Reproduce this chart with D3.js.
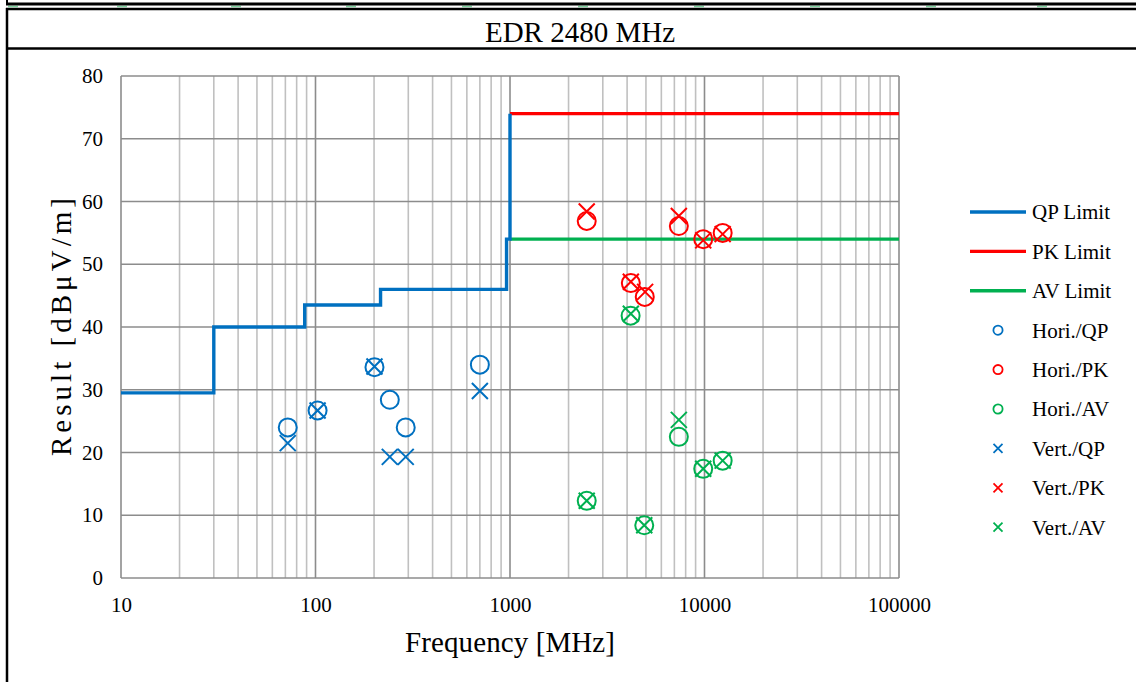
<!DOCTYPE html>
<html>
<head>
<meta charset="utf-8">
<title>EDR 2480 MHz</title>
<script src="https://d3js.org/d3.v7.min.js"></script>
<style>
  body { margin: 0; background: #fff; }
  svg text { font-family: "Liberation Serif", "Times New Roman", serif; fill: #000; }
</style>
</head>
<body>
<svg id="chart" width="1136" height="682"></svg>
<script>
// ---- data ----
var qpLimitFreq = [10, 30, 30, 88, 88, 216, 216, 960, 960, 1000, 1000];
var qpLimitVal  = [29.5, 29.5, 40, 40, 43.5, 43.5, 46, 46, 54, 54, 74];
var pkLimitFreq = [1000, 100000];
var pkLimitVal  = [74, 74];
var avLimitFreq = [1000, 100000];
var avLimitVal  = [54, 54];

var horiQPFreq = [72, 102.5, 201, 241, 291, 700];
var horiQPVal  = [24.0, 26.7, 33.6, 28.4, 24.0, 34.0];
var vertQPFreq = [72, 102.5, 201, 241, 291, 700];
var vertQPVal  = [21.5, 26.7, 33.7, 19.3, 19.3, 29.8];

var horiPKFreq = [2480, 4180, 4930, 7380, 9850, 12400];
var horiPKVal  = [56.9, 47.0, 44.8, 56.1, 54.0, 55.0];
var vertPKFreq = [2480, 4180, 4950, 7380, 9850, 12400];
var vertPKVal  = [58.4, 47.2, 45.6, 57.7, 53.8, 54.8];

var horiAVFreq = [2480, 4170, 4900, 7380, 9850, 12400];
var horiAVVal  = [12.3, 41.8, 8.4, 22.5, 17.4, 18.7];
var vertAVFreq = [2480, 4180, 4900, 7380, 9850, 12400];
var vertAVVal  = [12.3, 42.1, 8.4, 25.2, 17.4, 18.7];

var xTicks = [10, 100, 1000, 10000, 100000];
var yTicks = [0, 10, 20, 30, 40, 50, 60, 70, 80];

var blue = "#0070C0", red = "#FF0000", green = "#00B050";
var serif = "Liberation Serif, Times New Roman, serif";

var svg = d3.select("#chart");

// ---- page frame (table borders) ----
var dashX = [13, 122, 236, 351, 467, 583, 699, 815, 931, 1042];
svg.selectAll(".dash").data(dashX).enter().append("line")
  .attr("x1", function(d) { return d - 5; }).attr("x2", function(d) { return d + 5; })
  .attr("y1", 6.5).attr("y2", 6.5)
  .attr("stroke", "#7fd39f").attr("stroke-width", 1.5);
svg.append("line").attr("x1", 6).attr("x2", 1136).attr("y1", 4).attr("y2", 4)
  .attr("stroke", "#000").attr("stroke-width", 3);
svg.append("line").attr("x1", 7).attr("x2", 7).attr("y1", 0).attr("y2", 4)
  .attr("stroke", "#000").attr("stroke-width", 2);
svg.append("line").attr("x1", 6).attr("x2", 1136).attr("y1", 9).attr("y2", 9)
  .attr("stroke", "#000").attr("stroke-width", 2.5);
svg.append("line").attr("x1", 7).attr("x2", 7).attr("y1", 8).attr("y2", 682)
  .attr("stroke", "#000").attr("stroke-width", 2.5);
svg.append("line").attr("x1", 6).attr("x2", 1136).attr("y1", 48.5).attr("y2", 48.5)
  .attr("stroke", "#000").attr("stroke-width", 2.5);

svg.append("text")
  .attr("x", 580).attr("y", 42)
  .attr("text-anchor", "middle")
  .attr("font-size", "29px")
  .text("EDR 2480 MHz");

// ---- scales ----
var x = d3.scaleLog().domain([10, 100000]).range([121, 899]);
var y = d3.scaleLinear().domain([0, 80]).range([578, 76]);

// ---- grid ----
var minor = [];
for (var dec = 10; dec < 100000; dec *= 10) {
  for (var k = 2; k <= 9; k++) minor.push(dec * k);
}
svg.append("g").selectAll("line").data(minor).enter().append("line")
  .attr("x1", function(d) { return x(d); }).attr("x2", function(d) { return x(d); })
  .attr("y1", y(80)).attr("y2", y(0))
  .attr("stroke", "#c0c0c0").attr("stroke-width", 1.6);
svg.append("g").selectAll("line").data(xTicks).enter().append("line")
  .attr("x1", function(d) { return x(d); }).attr("x2", function(d) { return x(d); })
  .attr("y1", y(80)).attr("y2", y(0))
  .attr("stroke", "#8c8c8c").attr("stroke-width", 1.6);
svg.append("g").selectAll("line").data(yTicks).enter().append("line")
  .attr("x1", x(10)).attr("x2", x(100000))
  .attr("y1", function(d) { return y(d); }).attr("y2", function(d) { return y(d); })
  .attr("stroke", "#8c8c8c").attr("stroke-width", 1.6);

// ---- axes (labels only) ----
var gy = svg.append("g")
  .attr("transform", "translate(" + (x(10) - 6) + ",0)")
  .call(d3.axisLeft(y).tickValues(yTicks).tickSize(0).tickPadding(12))
  .attr("font-family", serif).attr("font-size", 21);
gy.select(".domain").remove();
gy.selectAll("text").attr("dy", "0.32em");

var gx = svg.append("g")
  .attr("transform", "translate(0," + (y(0) + 6) + ")")
  .call(d3.axisBottom(x).tickValues(xTicks).tickFormat(d3.format("d")).tickSize(0).tickPadding(13))
  .attr("font-family", serif).attr("font-size", 21);
gx.select(".domain").remove();

svg.append("text")
  .attr("x", 510).attr("y", 652)
  .attr("text-anchor", "middle")
  .attr("font-size", "29px")
  .attr("textLength", 210)
  .text("Frequency [MHz]");

svg.append("text")
  .attr("transform", "translate(71,327) rotate(-90)")
  .attr("text-anchor", "middle")
  .attr("font-size", "29px")
  .attr("textLength", 258)
  .text("Result [dBμV/m]");

// ---- limit lines ----
var line = d3.line()
  .x(function(d) { return x(d[0]); })
  .y(function(d) { return y(d[1]); });

function drawLimit(fs, vs, color) {
  svg.append("path")
    .datum(d3.zip(fs, vs))
    .attr("d", line)
    .attr("fill", "none")
    .attr("stroke", color)
    .attr("stroke-width", 3.4);
}
drawLimit(avLimitFreq, avLimitVal, green);
drawLimit(pkLimitFreq, pkLimitVal, red);
drawLimit(qpLimitFreq, qpLimitVal, blue);

// ---- markers ----
function drawCircles(fs, vs, color, r) {
  svg.append("g").selectAll("circle").data(d3.zip(fs, vs)).enter().append("circle")
    .attr("cx", function(d) { return x(d[0]); })
    .attr("cy", function(d) { return y(d[1]); })
    .attr("r", r)
    .attr("fill", "none")
    .attr("stroke", color)
    .attr("stroke-width", 2);
}
function drawCrosses(fs, vs, color, s) {
  svg.append("g").selectAll("path").data(d3.zip(fs, vs)).enter().append("path")
    .attr("d", function(d) {
      var cx = x(d[0]), cy = y(d[1]);
      return "M" + (cx - s) + "," + (cy - s) + "L" + (cx + s) + "," + (cy + s) +
             "M" + (cx - s) + "," + (cy + s) + "L" + (cx + s) + "," + (cy - s);
    })
    .attr("fill", "none")
    .attr("stroke", color)
    .attr("stroke-width", 2);
}
drawCircles(horiQPFreq, horiQPVal, blue, 9);
drawCircles(horiPKFreq, horiPKVal, red, 9);
drawCircles(horiAVFreq, horiAVVal, green, 9);
drawCrosses(vertQPFreq, vertQPVal, blue, 8);
drawCrosses(vertPKFreq, vertPKVal, red, 8);
drawCrosses(vertAVFreq, vertAVVal, green, 8);

// ---- legend ----
var legendItems = [
  { name: "QP Limit", color: blue, type: "line" },
  { name: "PK Limit", color: red, type: "line" },
  { name: "AV Limit", color: green, type: "line" },
  { name: "Hori./QP", color: blue, type: "circle" },
  { name: "Hori./PK", color: red, type: "circle" },
  { name: "Hori./AV", color: green, type: "circle" },
  { name: "Vert./QP", color: blue, type: "cross" },
  { name: "Vert./PK", color: red, type: "cross" },
  { name: "Vert./AV", color: green, type: "cross" }
];
var lg = svg.append("g").selectAll("g").data(legendItems).enter().append("g")
  .attr("transform", function(d, i) { return "translate(0," + (212 + i * 39.4) + ")"; });
lg.filter(function(d) { return d.type == "line"; }).append("line")
  .attr("x1", 970).attr("x2", 1026).attr("y1", 0).attr("y2", 0)
  .attr("stroke", function(d) { return d.color; }).attr("stroke-width", 3.4);
lg.filter(function(d) { return d.type == "circle"; }).append("circle")
  .attr("cx", 998).attr("cy", 0).attr("r", 4.6)
  .attr("fill", "none").attr("stroke", function(d) { return d.color; }).attr("stroke-width", 1.8);
lg.filter(function(d) { return d.type == "cross"; }).append("path")
  .attr("d", "M993.5,-4.5L1002.5,4.5M993.5,4.5L1002.5,-4.5")
  .attr("fill", "none").attr("stroke", function(d) { return d.color; }).attr("stroke-width", 1.8);
lg.append("text")
  .attr("x", 1032).attr("y", 0).attr("dy", "0.35em")
  .attr("font-size", "21px")
  .text(function(d) { return d.name; });
</script>
</body>
</html>
